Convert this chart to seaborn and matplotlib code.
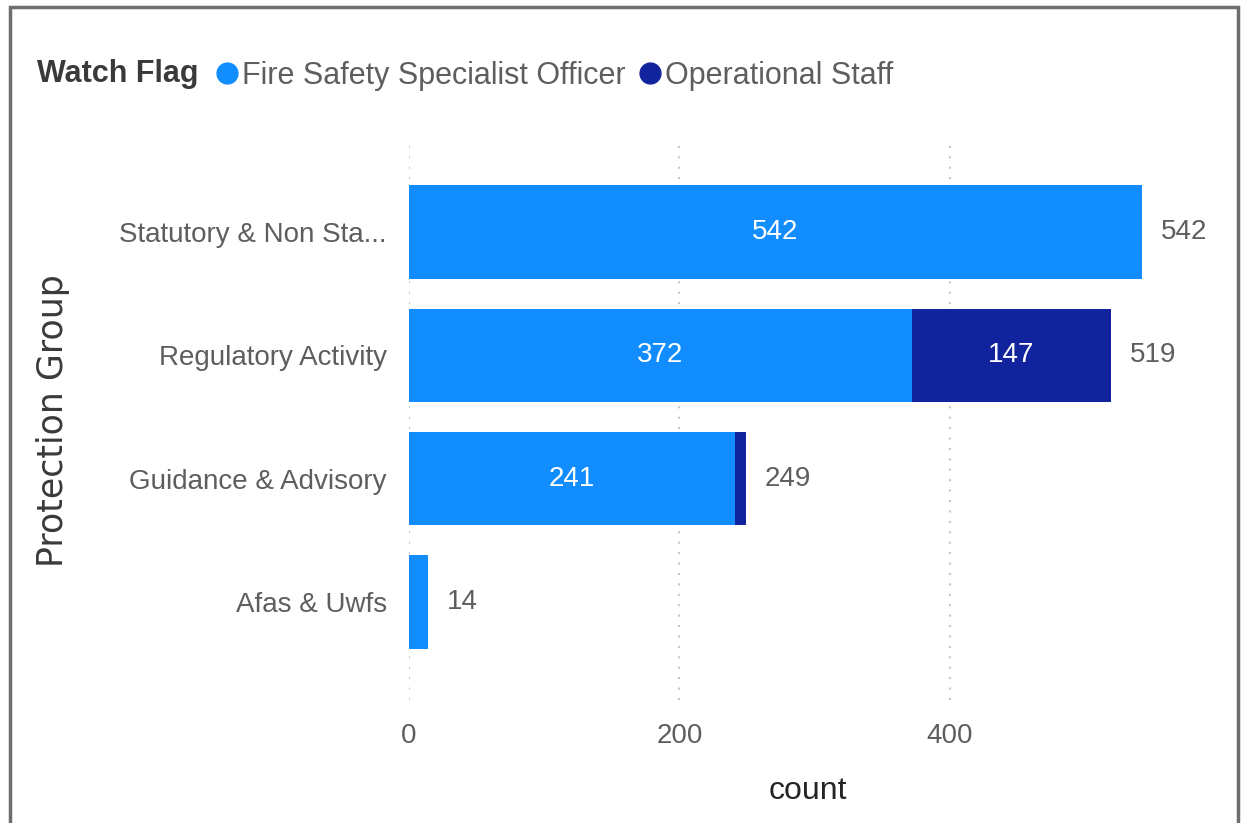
import numpy as np
import pandas as pd
import matplotlib.pyplot as plt
import seaborn as sns
from matplotlib.lines import Line2D
from matplotlib.patches import Rectangle

groups = ["Statutory & Non Sta...", "Regulatory Activity", "Guidance & Advisory", "Afas & Uwfs"]
fire_safety = [542, 372, 241, 14]
operational = [0, 147, 8, 0]
series_names = ["Fire Safety Specialist Officer", "Operational Staff"]
x_ticks = [0, 200, 400]

light = "#118DFF"
dark = "#12239E"
grey = "#605E5C"

sns.set_style("white")
plt.rcParams["font.family"] = ["Liberation Sans", "DejaVu Sans"]

df = pd.DataFrame({"group": groups, "fire": fire_safety, "ops": operational})
df["total"] = df["fire"] + df["ops"]

fig = plt.figure(figsize=(12.43, 8.23), dpi=100)
ax = fig.add_axes([0.329, 0.149, 0.608, 0.681])

sns.barplot(data=df, y="group", x="total", color=dark, width=0.76, ax=ax, saturation=1,
            orient="h", linewidth=0)
sns.barplot(data=df, y="group", x="fire", color=light, width=0.76, ax=ax, saturation=1,
            orient="h", linewidth=0)

for i, r in df.iterrows():
    if r["fire"] > 50:
        ax.text(r["fire"] / 2, i, str(r["fire"]), color="white", ha="center", va="center", fontsize=20)
    if r["ops"] > 50:
        ax.text(r["fire"] + r["ops"] / 2, i, str(r["ops"]), color="white", ha="center", va="center", fontsize=20)
    ax.text(r["total"] + 14, i, str(r["total"]), color=grey, ha="left", va="center", fontsize=20)

ax.set_xlim(0, 559)
ax.set_ylim(3.8, -0.75)
ax.set_xticks(x_ticks)
ax.xaxis.grid(True, linestyle=(0, (1, 4)), color="#C8C6C4", linewidth=1.5)
ax.set_axisbelow(True)
for s in ax.spines.values():
    s.set_visible(False)
ax.tick_params(axis="both", length=0, labelsize=20, labelcolor=grey)
ax.tick_params(axis="x", pad=16)
ax.tick_params(axis="y", pad=16)
ax.set_xlabel("count", fontsize=23, color="#252423")
ax.xaxis.set_label_coords(0.528, -0.135)
ax.set_ylabel("Protection Group", fontsize=25, color="#3B3A39", family="DejaVu Sans")
ax.yaxis.set_label_coords(-0.448, 0.5)

fig.text(0.030, 0.910, "Watch Flag", fontsize=22, fontweight="bold", color="#3B3A39", va="center")
handles = [Line2D([], [], marker="o", linestyle="", color=c, markersize=15) for c in [light, dark]]
fig.legend(handles, series_names, loc="center left", bbox_to_anchor=(0.170, 0.908), ncol=2,
           frameon=False, fontsize=22, labelcolor=grey, handletextpad=0.0, columnspacing=0.3,
           handlelength=1.0, borderaxespad=0, borderpad=0)

fig.patches.append(Rectangle((10 / 1243, -0.05), 1228 / 1243, 1.05 - 7 / 823, transform=fig.transFigure,
                             fill=False, edgecolor="#6E6E6E", linewidth=2.5))

fig.savefig("out.png", dpi=100)
